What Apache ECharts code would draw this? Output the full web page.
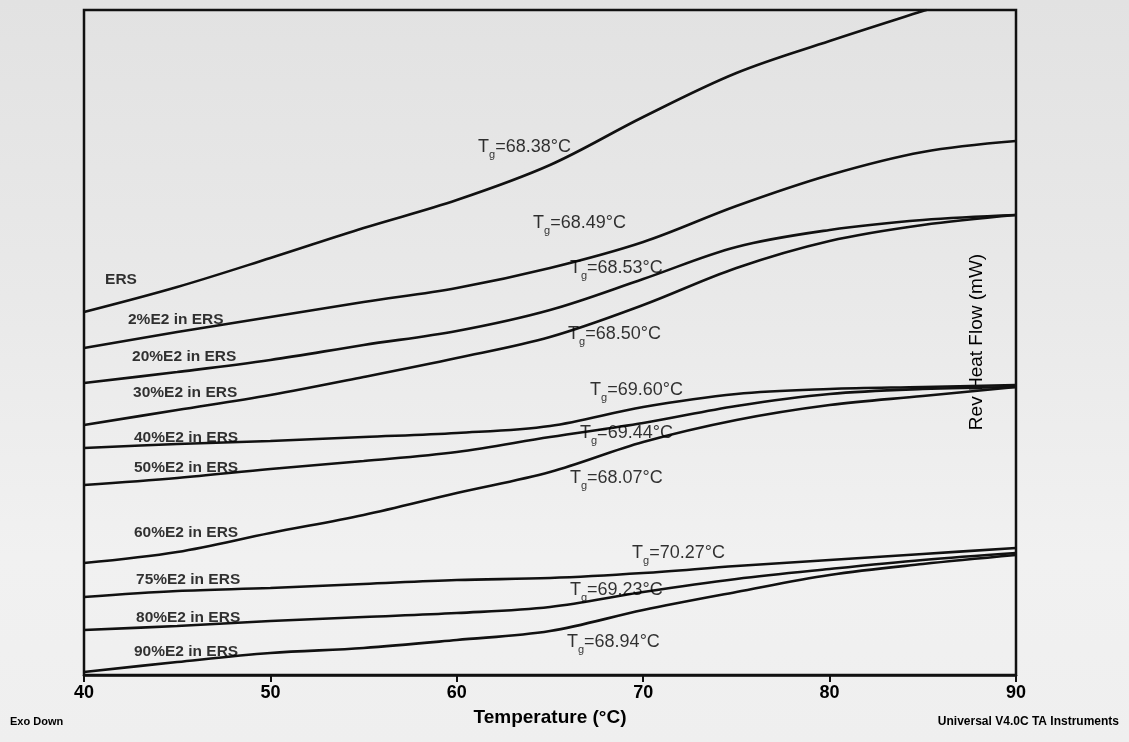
<!DOCTYPE html>
<html>
<head>
<meta charset="utf-8">
<script src="https://cdn.jsdelivr.net/npm/echarts@6/dist/echarts.min.js"></script>
<style>
  html, body { margin: 0; padding: 0; }
  #chart { width: 1129px; height: 742px;
    background: linear-gradient(to bottom, #e2e2e2 0%, #e9e9e9 40%, #f1f1f1 75%, #efefef 100%); }
</style>
</head>
<body>
<div id="chart"></div>
<script>
// ---- data (arbitrary heat-flow units, no scale shown) ----
const temps = [40, 45, 50, 55, 60, 65, 70, 75, 80, 85, 90];
const sampleNames = ['ERS', '2%E2 in ERS', '20%E2 in ERS', '30%E2 in ERS', '40%E2 in ERS',
  '50%E2 in ERS', '60%E2 in ERS', '75%E2 in ERS', '80%E2 in ERS', '90%E2 in ERS'];
const tgValues = ['68.38', '68.49', '68.53', '68.50', '69.60', '69.44', '68.07', '70.27', '69.23', '68.94'];

const ers    = [363, 388, 417, 447, 475, 510, 558, 602, 634, 664, null];
const ersTopExit = [85.2, 665];
const e2_2   = [327, 343, 358, 373, 387, 407, 433, 469, 500, 523, 534];
const e2_20  = [292, 303, 315, 330, 344, 365, 396, 428, 445, 455, 460];
const e2_30  = [250, 265, 280, 298, 317, 338, 370, 407, 434, 450, 460];
const e2_40  = [227, 231, 234, 238, 242, 249, 268, 281, 286, 288, 290];
const e2_50  = [190, 197, 206, 214, 223, 238, 252, 269, 281, 286, 288];
const e2_60  = [112, 123, 142, 160, 182, 203, 233, 255, 270, 279, 288];
const e2_75  = [78, 84, 87, 91, 95, 97, 102, 109, 115, 121, 127];
const e2_80  = [45, 49, 54, 58, 62, 68, 83, 96, 106, 115, 122];
const e2_90  = [3, 13, 22, 27, 35, 44, 65, 83, 100, 111, 120];

const xTicks = [40, 50, 60, 70, 80, 90];

// ---- annotation anchors (left-middle of each text), in chart coordinates ----
const nameLabelAt = [[41.13, 395], [42.36, 355], [42.58, 318], [42.63, 282], [42.68, 237],
  [42.68, 207], [42.68, 142], [42.79, 95], [42.79, 57], [42.68, 23]];
const tgLabelAt = [[61.14, 528], [64.09, 452], [66.07, 407], [65.97, 341], [67.15, 285],
  [66.61, 242], [66.07, 197], [69.40, 122], [66.07, 85], [65.91, 33]];

// ---- build ----
const allCurves = [ers, e2_2, e2_20, e2_30, e2_40, e2_50, e2_60, e2_75, e2_80, e2_90];
const FONT = '"Liberation Sans", Arial, Helvetica, sans-serif';
const INK = '#111111';
const TXT = '#000000';

const lineSeries = allCurves.map((vals, i) => {
  const d = [];
  temps.forEach((t, k) => { if (vals[k] !== null) d.push([t, vals[k]]); });
  if (i === 0) d.push(ersTopExit);
  return {
    type: 'line', name: sampleNames[i], data: d, smooth: 0.35,
    showSymbol: false, symbol: 'none', clip: true,
    lineStyle: { color: INK, width: 2.6 }, z: 2, silent: true
  };
});

const nameLabels = {
  type: 'scatter', symbolSize: 0, silent: true, z: 5,
  data: nameLabelAt.map((p, i) => ({ value: p, name: sampleNames[i] })),
  label: {
    show: true, position: 'right', distance: 0,
    formatter: p => p.name,
    fontFamily: FONT, fontWeight: 'bold', fontSize: 15.5, color: TXT
  }
};

const tgStyle = { fontFamily: FONT, color: TXT };
const tgLabels = {
  type: 'scatter', symbolSize: 0, silent: true, z: 5,
  data: tgLabelAt.map((p, i) => ({ value: p, name: tgValues[i] })),
  label: {
    show: true, position: 'right', distance: 0,
    formatter: p => '{t|T}{g|g}{v|=' + p.name + '°C}',
    rich: {
      t: Object.assign({ fontSize: 18, lineHeight: 26, verticalAlign: 'middle' }, tgStyle),
      g: Object.assign({ fontSize: 11, lineHeight: 12, verticalAlign: 'bottom' }, tgStyle),
      v: Object.assign({ fontSize: 18, lineHeight: 26, verticalAlign: 'middle' }, tgStyle)
    }
  }
};

const chart = echarts.init(document.getElementById('chart'), null, { renderer: 'canvas' });
chart.setOption({
  backgroundColor: 'transparent',
  animation: false,
  grid: { left: 84, right: 113, top: 10, bottom: 67, show: true,
    borderColor: INK, borderWidth: 2.5, backgroundColor: 'transparent' },
  xAxis: {
    type: 'value', min: xTicks[0], max: xTicks[xTicks.length - 1], interval: 10,
    name: 'Temperature (°C)', nameLocation: 'middle', nameGap: 33,
    nameTextStyle: { fontFamily: FONT, fontWeight: 'bold', fontSize: 19, color: TXT },
    axisLine: { show: true, lineStyle: { color: INK, width: 2.5 } },
    axisTick: { show: true, inside: false, length: 7, lineStyle: { color: INK, width: 2 } },
    axisLabel: { fontFamily: FONT, fontWeight: 'bold', fontSize: 18, color: TXT, margin: 9 },
    splitLine: { show: false }
  },
  yAxis: {
    type: 'value', min: 0, max: 665,
    axisLine: { show: false }, axisTick: { show: false },
    axisLabel: { show: false }, splitLine: { show: false }
  },
  graphic: [
    { type: 'text', left: 10, top: 716,
      style: { text: 'Exo Down', fontFamily: FONT, fontWeight: 'bold', fontSize: 11, fill: TXT } },
    { type: 'text', right: 10, top: 716,
      style: { text: 'Universal V4.0C TA Instruments', fontFamily: FONT, fontWeight: 'bold', fontSize: 12, fill: TXT } },
    { type: 'text', x: 977, y: 342, rotation: Math.PI / 2,
      style: { text: 'Rev Heat Flow (mW)', fontFamily: FONT, fontSize: 19, fill: TXT,
        align: 'center', verticalAlign: 'middle' } }
  ],
  series: [...lineSeries, nameLabels, tgLabels]
});
</script>
</body>
</html>
